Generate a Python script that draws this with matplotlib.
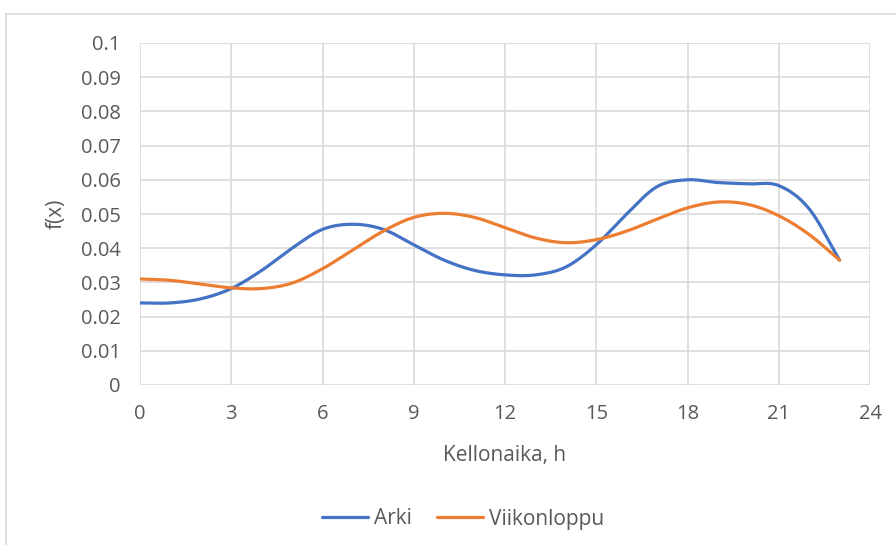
import numpy as np
import matplotlib
matplotlib.use("Agg")
import matplotlib.pyplot as plt
from matplotlib.patches import Rectangle

# tunnit ja tiheydet (luettu kuvasta)
hours = list(range(24))
arki = [0.024, 0.0240, 0.0252, 0.0282, 0.0335, 0.0400, 0.0455, 0.0470, 0.0455, 0.0410,
        0.0365, 0.0335, 0.0322, 0.0322, 0.0345, 0.0410, 0.0500, 0.0580, 0.0600, 0.0592,
        0.0588, 0.0583, 0.0515, 0.0365]
viikonloppu = [0.0310, 0.0306, 0.0295, 0.0284, 0.0282, 0.0298, 0.0340, 0.0395, 0.0450, 0.0490,
               0.0502, 0.0490, 0.0460, 0.0430, 0.0416, 0.0425, 0.0450, 0.0485, 0.0518, 0.0535,
               0.0528, 0.0495, 0.0440, 0.0365]
series_names = ["Arki", "Viikonloppu"]
x_ticks = [0, 3, 6, 9, 12, 15, 18, 21, 24]
y_ticks = [0, 0.01, 0.02, 0.03, 0.04, 0.05, 0.06, 0.07, 0.08, 0.09, 0.1]


def smooth(x, y, n=30):
    # Catmull-Rom kuten Excelin "tasoitettu viiva"
    x = np.asarray(x, float)
    y = np.asarray(y, float)
    px = np.concatenate([[2 * x[0] - x[1]], x, [2 * x[-1] - x[-2]]])
    py = np.concatenate([[2 * y[0] - y[1]], y, [2 * y[-1] - y[-2]]])
    xs, ys = [], []
    t = np.linspace(0, 1, n, endpoint=False)
    for i in range(1, len(px) - 2):
        p0, p1, p2, p3 = py[i - 1], py[i], py[i + 1], py[i + 2]
        q0, q1, q2, q3 = px[i - 1], px[i], px[i + 1], px[i + 2]
        ys.append(0.5 * (2 * p1 + (-p0 + p2) * t + (2 * p0 - 5 * p1 + 4 * p2 - p3) * t**2
                         + (-p0 + 3 * p1 - 3 * p2 + p3) * t**3))
        xs.append(0.5 * (2 * q1 + (-q0 + q2) * t + (2 * q0 - 5 * q1 + 4 * q2 - q3) * t**2
                         + (-q0 + 3 * q1 - 3 * q2 + q3) * t**3))
    xs.append([x[-1]])
    ys.append([y[-1]])
    return np.concatenate(xs), np.concatenate(ys)


plt.rcParams['font.family'] = ['Open Sans', 'DejaVu Sans']

fig = plt.figure(figsize=(8.96, 5.45), dpi=100)
# kaavion reunus
fig.patches.append(Rectangle((6 / 896, -0.1), 1.2, 1 - 14 / 545 + 0.1, transform=fig.transFigure,
                             fill=False, edgecolor='#D9D9D9', linewidth=1.2))

ax = fig.add_axes([140 / 896, 1 - 385 / 545, 730 / 896, 342 / 545])

blue = '#4472C4'
orange = '#ED7D31'
gx, gy = smooth(hours, arki)
ax.plot(gx, gy, color=blue, lw=2.3, label=series_names[0], solid_capstyle='round')
gx, gy = smooth(hours, viikonloppu)
ax.plot(gx, gy, color=orange, lw=2.3, label=series_names[1], solid_capstyle='round')

ax.set_xlim(0, 24)
ax.set_ylim(0, 0.1)
ax.set_xticks(x_ticks)
ax.set_yticks(y_ticks)
ax.set_yticklabels(["0" if v == 0 else ("%g" % v) for v in y_ticks])
ax.grid(True, color='#D9D9D9', lw=1.2)
ax.set_axisbelow(True)
for s in ax.spines.values():
    s.set_visible(False)
ax.tick_params(length=0, labelsize=14.5, colors='#595959')
ax.tick_params(axis='x', pad=14)
ax.tick_params(axis='y', pad=14)

ax.set_xlabel("Kellonaika, h", fontsize=15, color='#595959', labelpad=15)
ax.set_ylabel("f(x)", fontsize=15, color='#595959', labelpad=10)

fig.legend(loc='center', bbox_to_anchor=(463 / 896, 1 - 519 / 545), ncol=2, frameon=False,
           fontsize=15, labelcolor='#595959', handlelength=2.2, handletextpad=0.3,
           columnspacing=1.2)

fig.savefig("out.png", dpi=100)
